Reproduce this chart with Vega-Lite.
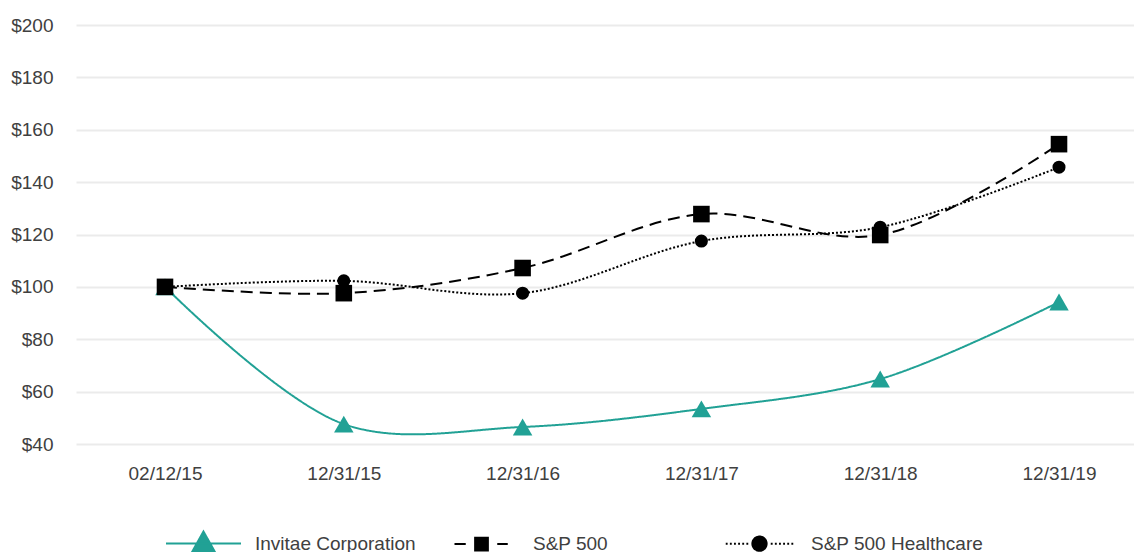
{
  "$schema": "https://vega.github.io/schema/vega-lite/v6.json",
  "width": 1058,
  "height": 419,
  "autosize": {"type": "none"},
  "padding": {"left": 76, "top": 25, "right": 0, "bottom": 108},
  "background": "white",
  "config": {
    "view": {"stroke": null},
    "font": "Liberation Sans",
    "axis": {"labelFont": "Liberation Sans", "labelColor": "#404040", "labelFontSize": 19}
  },
  "data": {
    "values": [
      {"date": "02/12/15", "series": "Invitae Corporation", "value": 100},
      {"date": "12/31/15", "series": "Invitae Corporation", "value": 47.6},
      {"date": "12/31/16", "series": "Invitae Corporation", "value": 46.5},
      {"date": "12/31/17", "series": "Invitae Corporation", "value": 53.4},
      {"date": "12/31/18", "series": "Invitae Corporation", "value": 64.8},
      {"date": "12/31/19", "series": "Invitae Corporation", "value": 94.2},
      {"date": "02/12/15", "series": "S&P 500", "value": 100},
      {"date": "12/31/15", "series": "S&P 500", "value": 97.6},
      {"date": "12/31/16", "series": "S&P 500", "value": 107.2},
      {"date": "12/31/17", "series": "S&P 500", "value": 127.8},
      {"date": "12/31/18", "series": "S&P 500", "value": 119.8},
      {"date": "12/31/19", "series": "S&P 500", "value": 154.5},
      {"date": "02/12/15", "series": "S&P 500 Healthcare", "value": 100},
      {"date": "12/31/15", "series": "S&P 500 Healthcare", "value": 102.3},
      {"date": "12/31/16", "series": "S&P 500 Healthcare", "value": 97.6},
      {"date": "12/31/17", "series": "S&P 500 Healthcare", "value": 117.5},
      {"date": "12/31/18", "series": "S&P 500 Healthcare", "value": 122.8},
      {"date": "12/31/19", "series": "S&P 500 Healthcare", "value": 145.7}
    ]
  },
  "encoding": {
    "x": {
      "field": "date", "type": "ordinal", "sort": null,
      "scale": {"type": "point", "padding": 0.4586, "align": 0.5427},
      "axis": {"title": null, "labelAngle": 0, "domain": false, "ticks": false, "grid": false, "labelPadding": 20}
    },
    "y": {
      "field": "value", "type": "quantitative",
      "scale": {"domain": [40, 200], "nice": false, "zero": false},
      "axis": {"title": null, "values": [40, 60, 80, 100, 120, 140, 160, 180, 200], "format": "$,.0f", "domain": false, "ticks": false, "labelPadding": 23, "gridColor": "#ebebeb", "gridWidth": 2}
    }
  },
  "layer": [
    {
      "mark": {"type": "line", "interpolate": "catmull-rom", "strokeWidth": 2},
      "encoding": {
        "color": {
          "field": "series", "type": "nominal",
          "scale": {"domain": ["Invitae Corporation", "S&P 500", "S&P 500 Healthcare"], "range": ["#21a195", "#000000", "#000000"]},
          "legend": {
            "title": null, "orient": "none", "legendX": 89, "legendY": 480, "direction": "horizontal",
            "columns": 3, "gridAlign": "all", "columnPadding": 15,
            "labelFontSize": 19, "labelColor": "#404040", "labelFont": "Liberation Sans", "labelLimit": 400,
            "symbolSize": 5625, "symbolStrokeWidth": 2, "labelOffset": 13,
            "encode": {
              "symbols": {
                "update": {
                  "shape": {"signal": "datum.value === 'Invitae Corporation' ? 'M-1,0L1,0M0,-0.32L0.29,0.2L-0.29,0.2Z' : datum.value === 'S&P 500' ? 'M-0.72,0L-0.42,0M0.42,0L0.7,0M-0.17,-0.17L0.17,-0.17L0.17,0.17L-0.17,0.17Z' : 'M-0.9,0L-0.85,0M-0.79,0L-0.74,0M-0.68,0L-0.63,0M-0.57,0L-0.52,0M-0.46,0L-0.41,0M-0.35,0L-0.3,0M0.3,0L0.35,0M0.41,0L0.46,0M0.52,0L0.57,0M0.63,0L0.68,0M0.74,0L0.79,0M0.85,0L0.9,0M0.19,0A0.19,0.19,0,1,1,-0.19,0A0.19,0.19,0,1,1,0.19,0Z'"},
                  "strokeDash": {"value": [1, 0]},
                  "fill": {"signal": "datum.value === 'Invitae Corporation' ? '#21a195' : '#000000'"},
                  "stroke": {"signal": "datum.value === 'Invitae Corporation' ? '#21a195' : '#000000'"},
                  "strokeWidth": {"value": 2},
                  "opacity": {"value": 1},
                  "fillOpacity": {"value": 1}
                }
              }
            }
          }
        },
        "strokeDash": {
          "field": "series", "type": "nominal",
          "scale": {"domain": ["Invitae Corporation", "S&P 500", "S&P 500 Healthcare"], "range": [[1, 0], [12, 7], [2, 2]]},
          "legend": null
        }
      }
    },
    {
      "mark": {"type": "point", "filled": true, "opacity": 1},
      "encoding": {
        "color": {"field": "series", "type": "nominal", "legend": null},
        "shape": {
          "field": "series", "type": "nominal",
          "scale": {"domain": ["Invitae Corporation", "S&P 500", "S&P 500 Healthcare"], "range": ["triangle-up", "square", "circle"]},
          "legend": null
        },
        "size": {
          "field": "series", "type": "nominal",
          "scale": {"domain": ["Invitae Corporation", "S&P 500", "S&P 500 Healthcare"], "range": [380, 170, 190]},
          "legend": null
        }
      }
    }
  ],
  "resolve": {"legend": {"color": "independent"}}
}
